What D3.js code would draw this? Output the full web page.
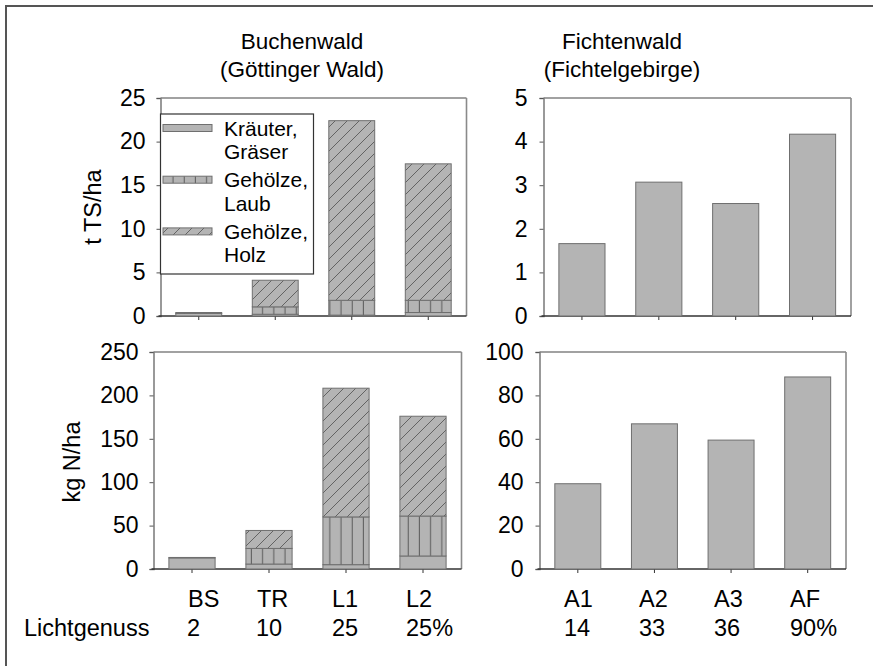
<!DOCTYPE html>
<html>
<head>
<meta charset="utf-8">
<script src="https://cdn.jsdelivr.net/npm/d3@7"></script>
<style>
  html, body { margin: 0; padding: 0; background: #fff; }
  svg { display: block; font-family: "Liberation Sans", Arial, sans-serif; }
</style>
</head>
<body>
<svg id="chart" width="873" height="666"></svg>
<script>
// Sites and light availability (Lichtgenuss)
const beechSites = ["BS", "TR", "L1", "L2"];
const beechLight = ["2", "10", "25", "25%"];
const spruceSites = ["A1", "A2", "A3", "AF"];
const spruceLight = ["14", "33", "36", "90%"];

// Buchenwald: biomass (t TS/ha) per component
const beechMassKraut = [0.3, 0.2, 0.1, 0.4];
const beechMassLaub  = [0.1, 0.85, 1.7, 1.4];
const beechMassHolz  = [0.0, 3.05, 20.6, 15.65];

// Buchenwald: nitrogen (kg N/ha) per component
const beechNKraut = [12.8, 5.7, 5.0, 15.0];
const beechNLaub  = [0.5, 18.0, 55.0, 46.0];
const beechNHolz  = [0.0, 20.7, 148.3, 115.0];

// Fichtenwald: biomass and nitrogen
const spruceMass = [1.66, 3.07, 2.58, 4.17];
const spruceN    = [39.3, 66.9, 59.4, 88.5];

// Legend entries
const components = ["Kraut", "Laub", "Holz"];
const legendLines = [["Kräuter,", "Gräser"], ["Gehölze,", "Laub"], ["Gehölze,", "Holz"]];

const yTicksMass = [0, 5, 10, 15, 20, 25];
const yTicksN = [0, 50, 100, 150, 200, 250];
const yTicksSpruceMass = [0, 1, 2, 3, 4, 5];
const yTicksSpruceN = [0, 20, 40, 60, 80, 100];

const svg = d3.select("#chart");
const LABEL_FONT = 23.5;
const TITLE_FONT = 22.5;
const TICK_FONT = 23;
const LEGEND_FONT = 21;
const BAR_FILL = "#b4b4b4";
const BAR_STROKE = "#6f6f6f";

svg.append("rect").attr("width", 873).attr("height", 666).attr("fill", "#fff");
// outer frame
svg.append("rect").attr("x", 6).attr("y", 6).attr("width", 900).attr("height", 700)
  .attr("fill", "none").attr("stroke", "#555").attr("stroke-width", 2);

// fill patterns
const defs = svg.append("defs");
const pLaub = defs.append("pattern").attr("id", "pat-Laub")
  .attr("patternUnits", "userSpaceOnUse").attr("width", 11.2).attr("height", 10);
pLaub.append("rect").attr("width", 11.2).attr("height", 10).attr("fill", BAR_FILL);
pLaub.append("line").attr("x1", 5).attr("x2", 5).attr("y1", 0).attr("y2", 10)
  .attr("stroke", "#5a5a5a").attr("stroke-width", 1);

const pHolz = defs.append("pattern").attr("id", "pat-Holz")
  .attr("patternUnits", "userSpaceOnUse").attr("width", 12).attr("height", 12);
pHolz.append("rect").attr("width", 12).attr("height", 12).attr("fill", BAR_FILL);
pHolz.append("path").attr("d", "M0,12 L12,0 M-3,3 L3,-3 M9,15 L15,9")
  .attr("stroke", "#5a5a5a").attr("stroke-width", 0.9).attr("fill", "none");

const fills = { Kraut: BAR_FILL, Laub: "url(#pat-Laub)", Holz: "url(#pat-Holz)" };

function panel(opts) {
  const { x0, x1, y0, y1, sites, max, ticks, labelRight } = opts;
  const x = d3.scaleBand().domain(sites).range([x0, x1]).paddingInner(0.4).paddingOuter(0.2);
  const y = d3.scaleLinear().domain([0, max]).range([y1, y0]);
  const g = svg.append("g");

  // frame: top and right edges
  g.append("line").attr("x1", x0).attr("x2", x1).attr("y1", y0).attr("y2", y0)
    .attr("stroke", "#444").attr("stroke-width", 1.2);
  g.append("line").attr("x1", x1).attr("x2", x1).attr("y1", y0).attr("y2", y1)
    .attr("stroke", "#8a8a8a").attr("stroke-width", 1.6);

  const yAxis = g.append("g").attr("transform", `translate(${x0},0)`)
    .call(d3.axisLeft(y).tickValues(ticks).tickSize(4).tickPadding(labelRight).tickFormat(d3.format("d")));
  yAxis.select(".domain").attr("stroke", "#808080").attr("stroke-width", 1.6);
  yAxis.selectAll(".tick line").attr("stroke", "#555");
  yAxis.selectAll("text").attr("font-size", TICK_FONT).attr("fill", "#000")
    .attr("font-family", "Liberation Sans, Arial, sans-serif");

  const xAxis = g.append("g").attr("transform", `translate(0,${y1})`)
    .call(d3.axisBottom(x).tickSize(4).tickFormat(""));
  xAxis.select(".domain").attr("d", `M${x0 - 2},0H${x1}`).attr("stroke", "#333").attr("stroke-width", 1.4);
  xAxis.selectAll(".tick line").attr("stroke", "#333");

  return { g, x, y };
}

function stackedBars(p, sites, series) {
  const rows = sites.map((s, i) => ({ site: s, Kraut: series.Kraut[i], Laub: series.Laub[i], Holz: series.Holz[i] }));
  const stacked = d3.stack().keys(components)(rows);
  stacked.forEach(layer => {
    p.g.append("g").selectAll("rect").data(layer.filter(d => d[1] - d[0] > 0)).join("rect")
      .attr("x", d => p.x(d.data.site))
      .attr("width", p.x.bandwidth())
      .attr("y", d => p.y(d[1]))
      .attr("height", d => p.y(d[0]) - p.y(d[1]))
      .attr("fill", fills[layer.key])
      .attr("stroke", BAR_STROKE).attr("stroke-width", 1);
  });
}

function simpleBars(p, sites, values) {
  p.g.append("g").selectAll("rect").data(values).join("rect")
    .attr("x", (d, i) => p.x(sites[i]))
    .attr("width", p.x.bandwidth())
    .attr("y", d => p.y(d))
    .attr("height", d => p.y(0) - p.y(d))
    .attr("fill", BAR_FILL)
    .attr("stroke", BAR_STROKE).attr("stroke-width", 1);
}

// Buchenwald, biomass
const pTL = panel({ x0: 160.5, x1: 466.5, y0: 98, y1: 316, sites: beechSites, max: 25, ticks: yTicksMass, labelRight: 11 });
stackedBars(pTL, beechSites, { Kraut: beechMassKraut, Laub: beechMassLaub, Holz: beechMassHolz });

// legend box
const lg = svg.append("g");
lg.append("rect").attr("x", 160.5).attr("y", 114).attr("width", 153).attr("height", 160)
  .attr("fill", "#fff").attr("stroke", "#333").attr("stroke-width", 1.2);
components.forEach((c, i) => {
  const cy = 128 + i * 51.7;
  lg.append("rect").attr("x", 163).attr("y", cy - 3.5).attr("width", 49).attr("height", 7)
    .attr("fill", fills[c]).attr("stroke", BAR_STROKE).attr("stroke-width", 1);
  legendLines[i].forEach((t, j) => {
    lg.append("text").attr("x", 224).attr("y", cy + 7.5 + j * 23.5)
      .attr("font-size", LEGEND_FONT).text(t);
  });
});

// Buchenwald, nitrogen
const pBL = panel({ x0: 153.5, x1: 461.5, y0: 352, y1: 569, sites: beechSites, max: 250, ticks: yTicksN, labelRight: 11 });
stackedBars(pBL, beechSites, { Kraut: beechNKraut, Laub: beechNLaub, Holz: beechNHolz });

// Fichtenwald, biomass
const pTR = panel({ x0: 543.5, x1: 851, y0: 98, y1: 316, sites: spruceSites, max: 5, ticks: yTicksSpruceMass, labelRight: 12 });
simpleBars(pTR, spruceSites, spruceMass);

// Fichtenwald, nitrogen
const pBR = panel({ x0: 539.5, x1: 846, y0: 352, y1: 569, sites: spruceSites, max: 100, ticks: yTicksSpruceN, labelRight: 12 });
simpleBars(pBR, spruceSites, spruceN);

// axis titles
svg.append("text").attr("transform", "translate(101,207) rotate(-90)")
  .attr("text-anchor", "middle").attr("font-size", LABEL_FONT).text("t TS/ha");
svg.append("text").attr("transform", "translate(80,462) rotate(-90)")
  .attr("text-anchor", "middle").attr("font-size", LABEL_FONT).text("kg N/ha");

// panel titles
const titles = [
  { x: 302, lines: ["Buchenwald", "(Göttinger Wald)"] },
  { x: 622, lines: ["Fichtenwald", "(Fichtelgebirge)"] }
];
titles.forEach(t => t.lines.forEach((s, j) => {
  svg.append("text").attr("x", t.x).attr("y", 49 + j * 28).attr("text-anchor", "middle")
    .attr("font-size", TITLE_FONT).text(s);
}));

// site names and light availability below the panels
const siteX = [188, 257, 332, 406, 564, 639, 714, 790];
beechSites.concat(spruceSites).forEach((s, i) => {
  svg.append("text").attr("x", siteX[i]).attr("y", 607).attr("font-size", LABEL_FONT).text(s);
});
const lightX = [187, 256, 332, 406, 564, 639, 714, 790];
beechLight.concat(spruceLight).forEach((s, i) => {
  svg.append("text").attr("x", lightX[i]).attr("y", 636).attr("font-size", LABEL_FONT).text(s);
});
svg.append("text").attr("x", 24).attr("y", 636).attr("font-size", LABEL_FONT).text("Lichtgenuss");
</script>
</body>
</html>
